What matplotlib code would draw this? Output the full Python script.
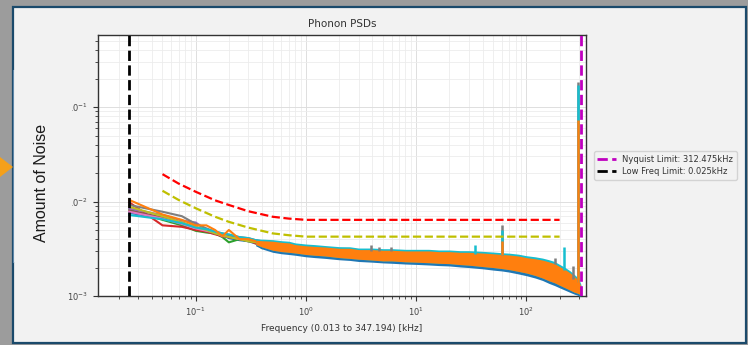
import numpy as np
import matplotlib.pyplot as plt
from matplotlib import patches

W, H = 748, 345

# low frequency part of each PSD trace [kHz] / [1e-3]
f_low = [0.025, 0.05, 0.075, 0.1, 0.125, 0.15, 0.175, 0.2, 0.25, 0.3, 0.35, 0.4, 0.45]
traces_low = {
    'tab:blue':   [7.6, 6.6, 6.0, 5.3, 5.0, 4.7, 4.4, 4.1, 3.9, 3.8, 3.6, 3.5, 3.4],
    'tab:green':  [8.2, 6.4, 5.6, 4.9, 4.7, 4.6, 4.2, 3.7, 4.0, 3.8, 3.7, 3.2, 3.6],
    'tab:red':    [9.8, 5.6, 5.4, 5.0, 4.8, 4.5, 4.3, 4.2, 4.0, 3.9, 3.6, 3.7, 3.5],
    'tab:purple': [8.4, 7.2, 6.3, 6.0, 5.0, 4.6, 4.5, 4.4, 4.1, 3.8, 3.9, 3.7, 3.6],
    'tab:brown':  [8.0, 6.8, 5.9, 5.4, 4.9, 4.6, 4.4, 4.2, 4.1, 3.9, 3.7, 3.6, 3.5],
    'tab:pink':   [7.8, 6.6, 5.8, 5.2, 4.9, 4.7, 4.3, 4.3, 4.0, 4.0, 3.9, 3.7, 3.8],
    'tab:gray':   [9.2, 7.8, 7.0, 5.8, 5.2, 4.8, 4.6, 4.4, 4.2, 4.1, 3.9, 3.8, 3.7],
    'tab:olive':  [8.8, 7.0, 6.0, 5.4, 5.0, 4.6, 4.4, 4.2, 4.0, 3.8, 3.7, 3.6, 3.5],
    'tab:cyan':   [7.2, 6.5, 5.9, 5.3, 5.1, 4.8, 4.6, 4.5, 4.2, 4.1, 3.9, 3.8, 3.7],
    'tab:orange': [10.4, 7.3, 6.4, 5.6, 5.6, 5.0, 4.3, 5.0, 4.0, 4.0, 3.8, 3.7, 3.7],
}

# spread of all traces above 0.35 kHz [1e-3]
band_f = [0.35, 0.4, 0.5, 0.6, 0.7, 0.8, 1.0, 1.2, 1.5, 2,
          2.5, 3, 4, 5, 6, 8, 10, 13, 16, 20,
          25, 30, 40, 50, 60, 70, 85, 100, 120, 140,
          160, 180, 200, 225, 250, 270, 290, 300, 312.475]
orange_hi = [3.9, 3.85, 3.8, 3.7, 3.65, 3.5, 3.4, 3.35, 3.3, 3.2,
             3.2, 3.1, 3.1, 3.05, 3.05, 3.0, 3.0, 3.0, 2.95, 2.95,
             2.9, 2.9, 2.85, 2.8, 2.75, 2.72, 2.65, 2.55, 2.48, 2.4,
             2.3, 2.2, 2.05, 1.9, 1.75, 1.62, 1.5, 1.42, 1.25]
orange_lo = [3.5, 3.3, 3.05, 2.95, 2.9, 2.85, 2.75, 2.7, 2.65, 2.55,
             2.5, 2.45, 2.4, 2.35, 2.35, 2.3, 2.28, 2.25, 2.22, 2.2,
             2.15, 2.12, 2.05, 2.0, 1.95, 1.9, 1.82, 1.75, 1.65, 1.55,
             1.45, 1.38, 1.3, 1.22, 1.15, 1.1, 1.07, 1.05, 1.05]
band_lo = [3.4, 3.15, 2.9, 2.8, 2.75, 2.7, 2.6, 2.55, 2.5, 2.42,
           2.38, 2.32, 2.28, 2.24, 2.22, 2.18, 2.16, 2.13, 2.1, 2.08,
           2.03, 2.0, 1.94, 1.88, 1.84, 1.79, 1.71, 1.64, 1.55, 1.46,
           1.36, 1.29, 1.22, 1.15, 1.09, 1.05, 1.02, 1.0, 1.0]
band_hi = [4.0, 4.0, 3.95, 3.85, 3.8, 3.65, 3.55, 3.5, 3.42, 3.33,
           3.32, 3.22, 3.22, 3.17, 3.17, 3.12, 3.12, 3.12, 3.07, 3.07,
           3.02, 3.02, 2.97, 2.92, 2.87, 2.84, 2.77, 2.67, 2.6, 2.52,
           2.42, 2.32, 2.16, 2.0, 1.84, 1.7, 1.58, 1.5, 1.32]

# narrow peaks: frequency [kHz], base and top [1e-3]
spikes = {
    'tab:gray':   ([3.9, 4.6, 5.9, 60.5, 180, 266, 291], [3.0, 3.0, 3.0, 2.7, 2.2, 1.5, 1.4],
                   [3.5, 3.3, 3.3, 5.6, 2.5, 2.1, 185]),
    'tab:cyan':   ([34, 60.5, 220, 291], [2.8, 2.7, 1.9, 1.4], [3.5, 5.0, 3.3, 170]),
    'tab:orange': ([60.5, 291], [2.7, 1.3], [3.8, 73]),
}

# limit curves [1e-3]
lim_f = [0.05, 0.07, 0.1, 0.15, 0.2, 0.3, 0.5, 0.7, 1.0, 200]
lim_red = [19.5, 15.5, 12.7, 10.3, 9.2, 7.9, 6.9, 6.6, 6.4, 6.4]
lim_yel = [13.0, 10.4, 8.5, 6.9, 6.1, 5.3, 4.6, 4.4, 4.25, 4.25]

nyquist = 312.475
low_freq = 0.025
f_min, f_max = 0.013, 347.194


def px(x, y):
    return x / W, 1 - y / H


fig = plt.figure(figsize=(W / 100, H / 100), dpi=100, facecolor='#9c9c9c')
fig.patches.append(patches.Rectangle(px(13, 343), 733 / W, 336 / H, transform=fig.transFigure,
                                     facecolor='#f2f2f2', edgecolor='#1b4a6b', lw=1.6, zorder=-10))

x0, y0 = px(98, 296)
x1, y1 = px(586, 35)
ax = fig.add_axes([x0, y0, x1 - x0, y1 - y0])
ax.set_facecolor('white')

s = 1e-3
for c, v in traces_low.items():
    ax.plot(f_low, np.array(v) * s, color=c, lw=1.5, zorder=2)

ax.fill_between(band_f, np.array(band_lo) * s, np.array(orange_hi) * s, color='tab:blue', lw=0, zorder=3)
ax.fill_between(band_f, np.array(orange_lo) * s, np.array(band_hi) * s, color='tab:cyan', lw=0, zorder=3)
ax.fill_between(band_f, np.array(orange_lo) * s, np.array(orange_hi) * s, color='tab:orange', lw=0, zorder=4)
for c, (f, lo, hi) in spikes.items():
    ax.vlines(f, np.array(lo) * s, np.array(hi) * s, colors=c, lw=1.8, zorder=5)

ax.plot(lim_f, np.array(lim_red) * s, 'r--', lw=1.6, zorder=6)
ax.plot(lim_f, np.array(lim_yel) * s, 'y--', lw=1.6, zorder=6)

ax.axvline(nyquist, color='m', ls='--', lw=2, zorder=7, label='Nyquist Limit: %.3fkHz' % nyquist)
ax.axvline(low_freq, color='k', ls='--', lw=2, zorder=7, label='Low Freq Limit: %.3fkHz' % low_freq)

ax.set_xscale('log')
ax.set_yscale('log')
ax.set_xlim(f_min, f_max)
ax.set_ylim(1e-3, 0.58)
ax.grid(which='major', color='#dedede', lw=0.7)
ax.grid(which='minor', color='#ececec', lw=0.6)
ax.set_axisbelow(True)
ax.tick_params(which='both', labelsize=6, colors='#333333', labelcolor='#444444')
ax.tick_params(which='major', length=3.5, width=0.8)
ax.tick_params(which='minor', length=2, width=0.6)
for sp in ax.spines.values():
    sp.set_color('#333333')
    sp.set_linewidth(1.0)

ax.set_title('Phonon PSDs', fontsize=7.5, color='#333333', pad=6)
ax.set_xlabel('Frequency (%.3f to %.3f) [kHz]' % (f_min, f_max), fontsize=6.5, color='#333333', labelpad=4)
leg = ax.legend(loc='center left', bbox_to_anchor=(1.008, 0.5), fontsize=6, frameon=True,
                handlelength=2.2, borderpad=0.4, labelspacing=0.4)
leg.get_frame().set_edgecolor('#cccccc')
leg.get_frame().set_facecolor('#f2f2f2')
for t in leg.get_texts():
    t.set_color('#333333')

# side panel with the y axis caption
fig.patches.append(patches.Rectangle(px(13, 262), 59 / W, 192 / H, transform=fig.transFigure,
                                     facecolor='#f2f2f2', edgecolor='none', zorder=10))
fig.lines.append(plt.Line2D([13 / W, 13 / W], [1 - 262 / H, 1 - 70 / H], transform=fig.transFigure,
                            color='#5f86a8', lw=0.8, zorder=11))
fig.patches.append(patches.Polygon([px(0, 157), px(13, 167), px(0, 177)], closed=True,
                                   transform=fig.transFigure, facecolor='#f5a01a', edgecolor='none', zorder=11))
fig.text(42 / W, 1 - 183 / H, 'Amount of Noise', rotation=90, ha='center', va='center',
         fontsize=11.5, family='Liberation Sans', color='#1a1a1a', zorder=12)

fig.savefig('out.png', dpi=100, facecolor=fig.get_facecolor())
